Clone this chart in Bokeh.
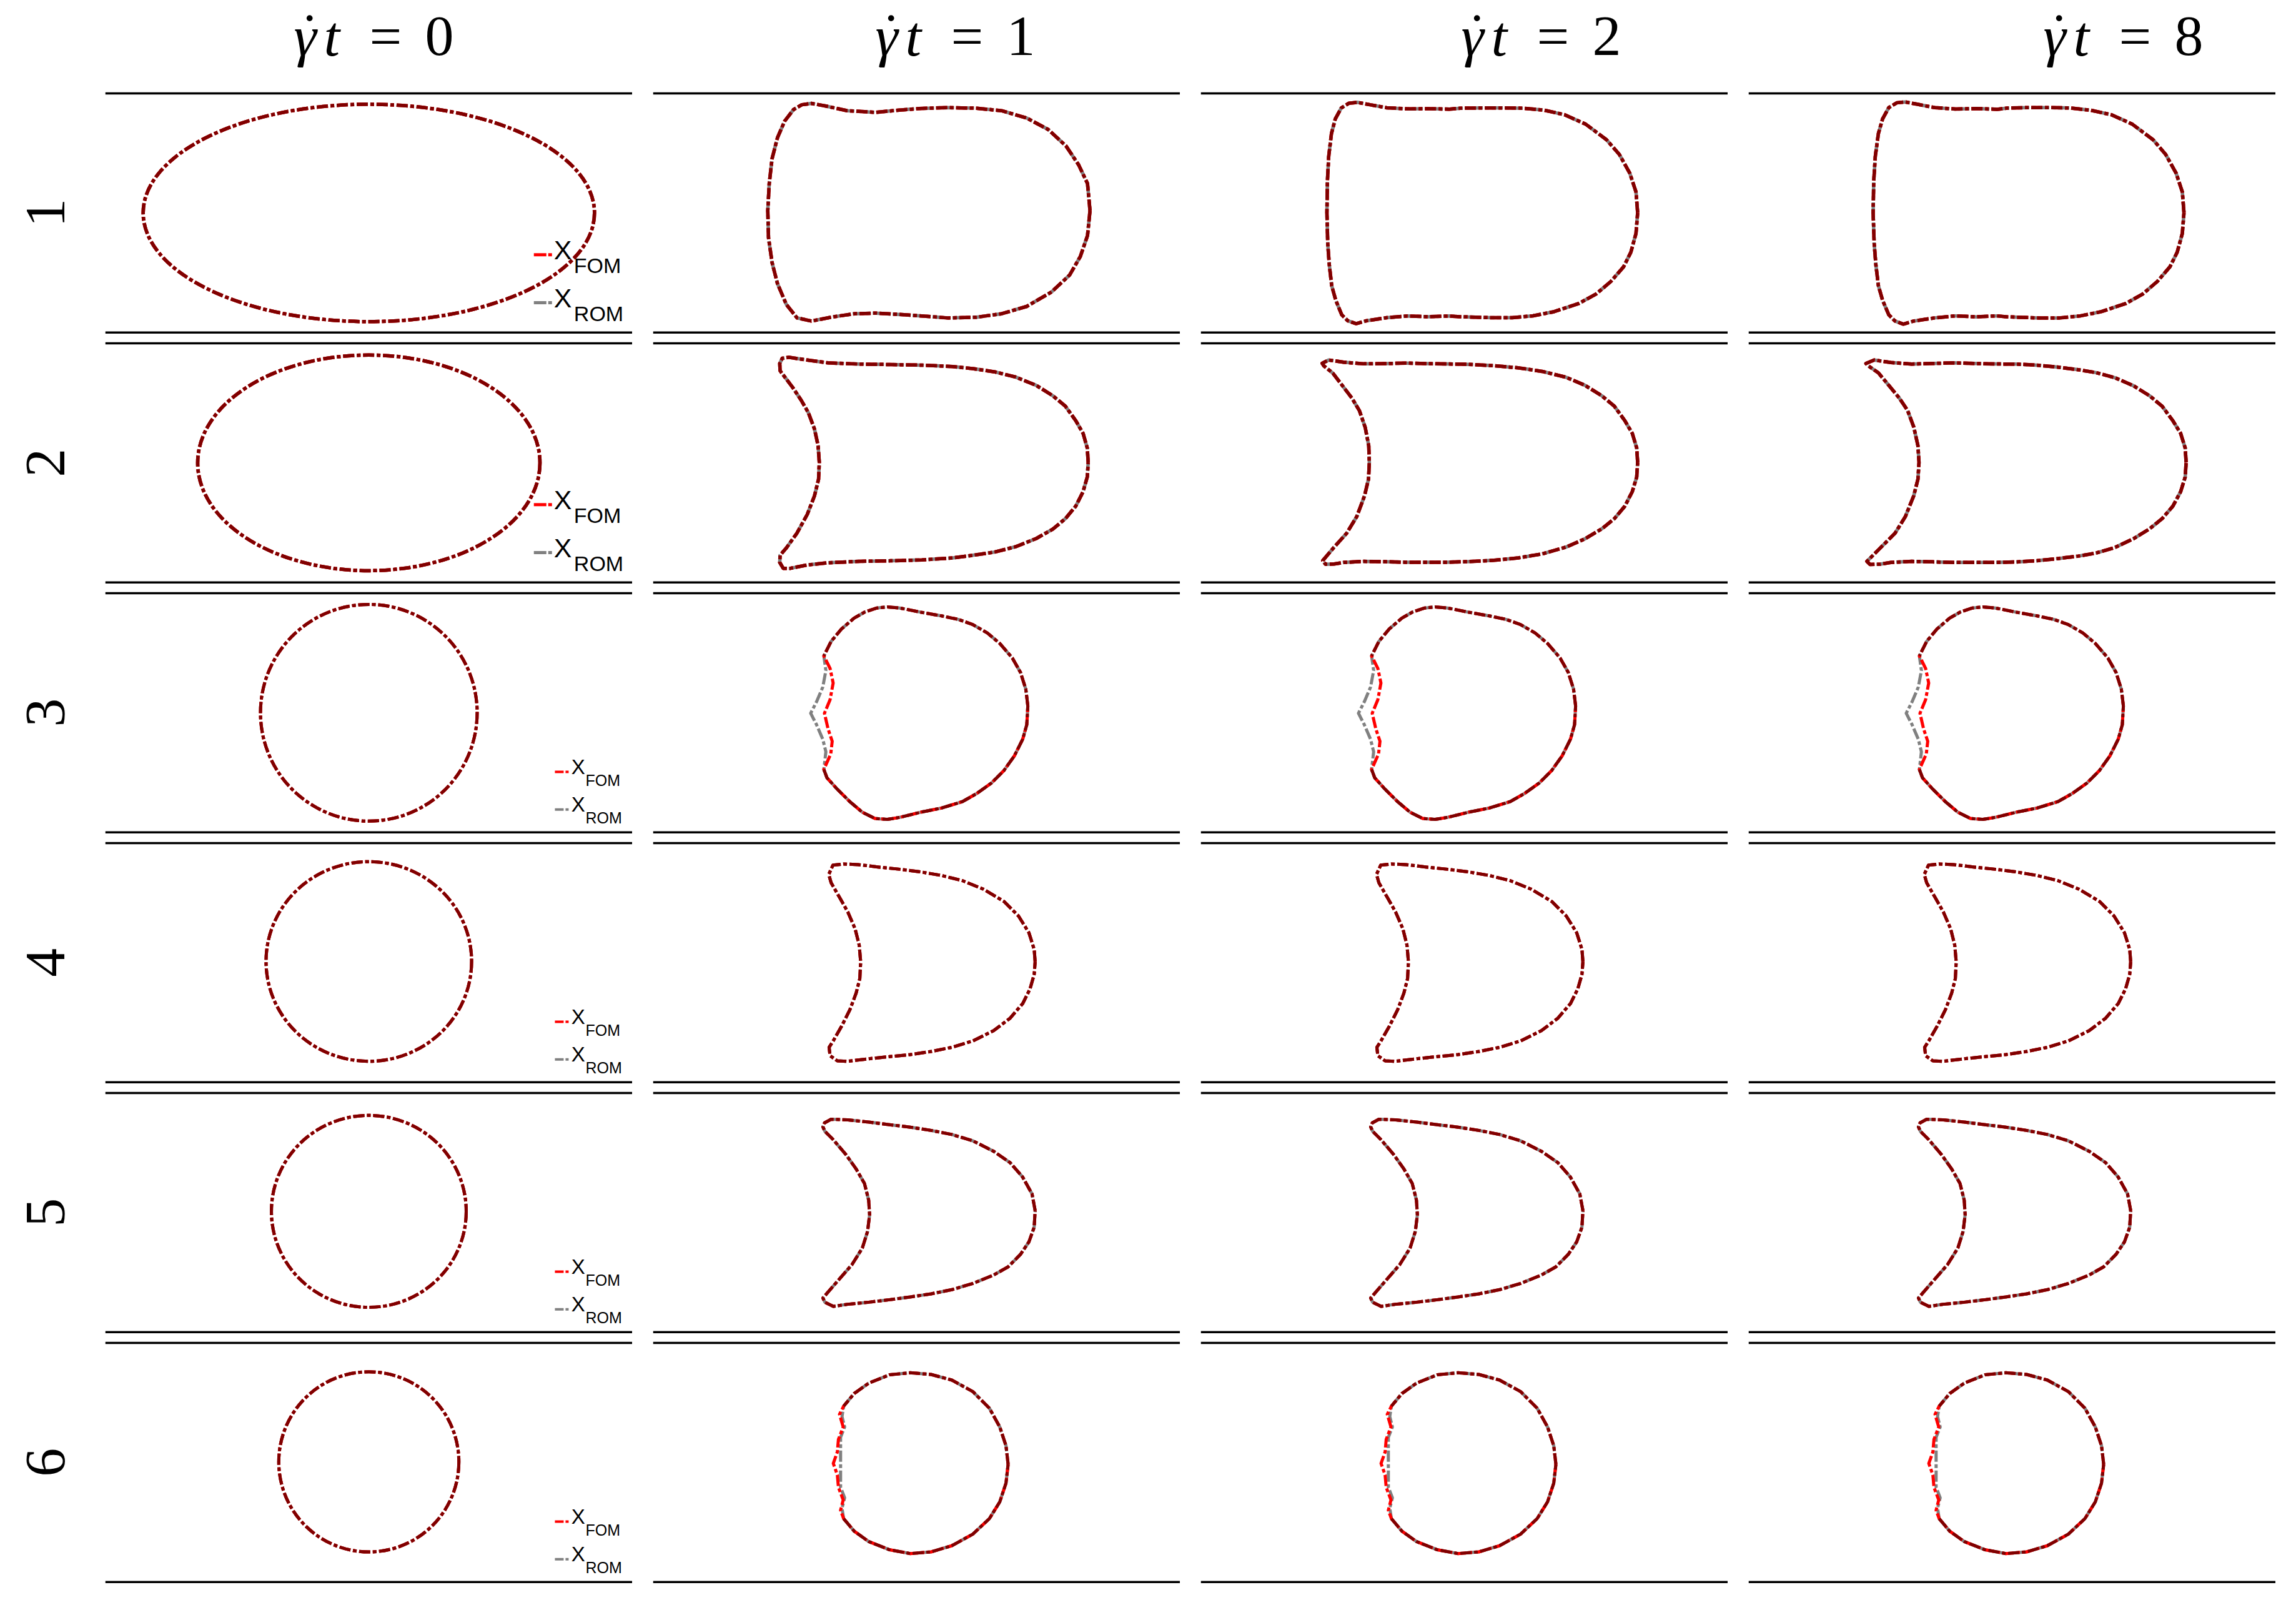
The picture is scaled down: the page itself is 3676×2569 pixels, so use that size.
import math
import numpy as np
from bokeh.plotting import figure
from bokeh.layouts import row, column
from bokeh.models import Range1d, Span
from bokeh.embed import file_html
from bokeh.resources import INLINE
from bokeh.core.properties import value

# ---------------- data (channel half-width = 1) ----------------
TIMES = ["0", "1", "2", "8"]
CASES = ["1", "2", "3", "4", "5", "6"]
WALLS = [-1.0, 1.0]

# initial shapes (t = 0): centre and full width / height
INIT_CX = [0.0, 0.0, 0.0, 0.0, 0.0, 0.0]
INIT_CY = [0.0, 0.0, 0.0, 0.01, 0.01, 0.005]
INIT_W = [3.776, 2.864, 1.813, 1.72, 1.63, 1.507]
INIT_H = [1.818, 1.804, 1.813, 1.67, 1.605, 1.507]

R1_T1 = [(1.451, 0.019), (1.430, 0.246), (1.356, 0.402), (1.251, 0.559), (1.101, 0.698), (0.921, 0.794),
         (0.711, 0.855), (0.501, 0.876), (0.260, 0.881), (0.020, 0.873), (-0.159, 0.859), (-0.340, 0.841),
         (-0.580, 0.855), (-0.759, 0.894), (-0.880, 0.916), (-0.960, 0.905), (-1.030, 0.864), (-1.104, 0.768),
         (-1.164, 0.629), (-1.209, 0.455), (-1.233, 0.246), (-1.245, 0.019), (-1.239, -0.207), (-1.209, -0.416),
         (-1.164, -0.591), (-1.090, -0.765), (-1.000, -0.878), (-0.880, -0.904), (-0.699, -0.869), (-0.520, -0.843),
         (-0.340, -0.838), (-0.159, -0.848), (0.020, -0.860), (0.260, -0.878), (0.501, -0.872), (0.711, -0.843),
         (0.921, -0.782), (1.130, -0.660), (1.280, -0.520), (1.370, -0.364), (1.430, -0.190)]

R1_T2 = [(1.450, 0.002), (1.436, 0.176), (1.384, 0.333), (1.297, 0.489), (1.190, 0.612), (1.016, 0.742),
         (0.840, 0.821), (0.665, 0.860), (0.490, 0.876), (0.315, 0.878), (0.140, 0.878), (-0.035, 0.876),
         (-0.125, 0.868), (-0.300, 0.872), (-0.475, 0.870), (-0.650, 0.880), (-0.790, 0.905), (-0.895, 0.925),
         (-0.965, 0.918), (-1.030, 0.878), (-1.080, 0.786), (-1.112, 0.664), (-1.135, 0.472), (-1.146, 0.263),
         (-1.150, 0.002), (-1.143, -0.259), (-1.130, -0.434), (-1.110, -0.608), (-1.076, -0.730), (-1.026, -0.852),
         (-0.975, -0.902), (-0.905, -0.926), (-0.820, -0.902), (-0.650, -0.876), (-0.475, -0.862), (-0.300, -0.868),
         (-0.126, -0.862), (-0.035, -0.868), (0.225, -0.876), (0.400, -0.876), (0.575, -0.860), (0.750, -0.826),
         (0.960, -0.756), (1.102, -0.678), (1.226, -0.573), (1.332, -0.451), (1.393, -0.329), (1.436, -0.172)]

R1_T8 = [(1.438, 0.002), (1.424, 0.176), (1.372, 0.333), (1.285, 0.489), (1.180, 0.612), (1.006, 0.742),
         (0.832, 0.821), (0.658, 0.859), (0.484, 0.878), (0.309, 0.881), (0.135, 0.881), (-0.039, 0.877),
         (-0.126, 0.867), (-0.300, 0.873), (-0.475, 0.869), (-0.649, 0.881), (-0.788, 0.908), (-0.893, 0.928),
         (-0.963, 0.922), (-1.032, 0.881), (-1.084, 0.786), (-1.119, 0.664), (-1.145, 0.472), (-1.158, 0.263),
         (-1.163, 0.002), (-1.154, -0.259), (-1.140, -0.434), (-1.119, -0.608), (-1.084, -0.730), (-1.032, -0.852),
         (-0.980, -0.904), (-0.910, -0.930), (-0.823, -0.904), (-0.649, -0.878), (-0.475, -0.861), (-0.300, -0.869),
         (-0.126, -0.861), (-0.039, -0.869), (0.222, -0.878), (0.397, -0.878), (0.571, -0.861), (0.745, -0.826),
         (0.954, -0.756), (1.093, -0.678), (1.215, -0.573), (1.320, -0.451), (1.381, -0.329), (1.424, -0.172)]

R2_T1 = [(1.436, 0.003), (1.428, 0.125), (1.393, 0.247), (1.332, 0.352), (1.245, 0.474), (1.140, 0.561),
         (1.001, 0.648), (0.827, 0.718), (0.653, 0.761), (0.479, 0.787), (0.304, 0.805), (0.044, 0.817),
         (-0.218, 0.822), (-0.480, 0.826), (-0.741, 0.836), (-0.915, 0.860), (-1.072, 0.883), (-1.124, 0.874),
         (-1.145, 0.831), (-1.142, 0.770), (-1.116, 0.735), (-1.037, 0.631), (-0.967, 0.526), (-0.906, 0.421),
         (-0.854, 0.282), (-0.824, 0.143), (-0.814, 0.003), (-0.820, -0.136), (-0.854, -0.275), (-0.915, -0.432),
         (-1.002, -0.589), (-1.089, -0.711), (-1.142, -0.772), (-1.145, -0.833), (-1.116, -0.882), (-1.055, -0.882),
         (-0.915, -0.854), (-0.741, -0.836), (-0.480, -0.824), (-0.218, -0.819), (0.044, -0.812), (0.304, -0.795),
         (0.479, -0.772), (0.653, -0.746), (0.827, -0.702), (1.001, -0.633), (1.140, -0.554), (1.245, -0.467),
         (1.332, -0.362), (1.393, -0.241), (1.428, -0.119)]

R2_T2 = [(1.450, 0.003), (1.442, 0.125), (1.405, 0.247), (1.343, 0.352), (1.255, 0.474), (1.150, 0.561),
         (1.010, 0.648), (0.850, 0.716), (0.650, 0.765), (0.450, 0.795), (0.250, 0.812), (0.030, 0.824),
         (-0.144, 0.827), (-0.318, 0.830), (-0.492, 0.834), (-0.666, 0.830), (-0.840, 0.828), (-1.010, 0.842),
         (-1.135, 0.860), (-1.190, 0.833), (-1.176, 0.811), (-1.100, 0.750), (-1.020, 0.645), (-0.940, 0.540),
         (-0.878, 0.436), (-0.830, 0.298), (-0.800, 0.143), (-0.795, 0.003), (-0.802, -0.136), (-0.835, -0.275),
         (-0.900, -0.449), (-0.985, -0.589), (-1.095, -0.711), (-1.185, -0.818), (-1.162, -0.848), (-1.090, -0.846),
         (-1.010, -0.833), (-0.840, -0.824), (-0.666, -0.827), (-0.492, -0.831), (-0.318, -0.831), (-0.144, -0.831),
         (0.030, -0.826), (0.250, -0.815), (0.450, -0.795), (0.650, -0.762), (0.850, -0.705), (1.010, -0.635),
         (1.150, -0.552), (1.255, -0.467), (1.343, -0.362), (1.405, -0.241), (1.442, -0.119)]

R2_T8 = [(1.456, 0.003), (1.448, 0.125), (1.410, 0.247), (1.345, 0.352), (1.255, 0.474), (1.150, 0.561),
         (1.015, 0.645), (0.860, 0.712), (0.700, 0.755), (0.553, 0.779), (0.379, 0.801), (0.205, 0.817),
         (0.031, 0.826), (-0.144, 0.827), (-0.318, 0.831), (-0.492, 0.836), (-0.666, 0.831), (-0.840, 0.826),
         (-1.015, 0.839), (-1.154, 0.860), (-1.223, 0.831), (-1.206, 0.813), (-1.119, 0.753), (-1.032, 0.648),
         (-0.945, 0.543), (-0.875, 0.439), (-0.823, 0.300), (-0.788, 0.143), (-0.779, 0.003), (-0.788, -0.136),
         (-0.823, -0.275), (-0.893, -0.449), (-0.980, -0.589), (-1.102, -0.711), (-1.215, -0.824), (-1.189, -0.850),
         (-1.102, -0.847), (-1.015, -0.833), (-0.840, -0.824), (-0.666, -0.828), (-0.492, -0.833), (-0.318, -0.833),
         (-0.144, -0.833), (0.031, -0.829), (0.205, -0.819), (0.379, -0.801), (0.553, -0.780), (0.700, -0.755),
         (0.860, -0.708), (1.015, -0.635), (1.150, -0.552), (1.255, -0.467), (1.345, -0.362), (1.410, -0.241),
         (1.448, -0.119)]

R3_FOM = [(0.931, 0.057), (0.914, 0.196), (0.870, 0.336), (0.801, 0.458), (0.696, 0.580), (0.592, 0.667),
          (0.469, 0.738), (0.348, 0.781), (0.208, 0.810), (0.034, 0.841), (-0.140, 0.876), (-0.245, 0.885),
          (-0.332, 0.876), (-0.436, 0.841), (-0.523, 0.791), (-0.628, 0.701), (-0.715, 0.597), (-0.776, 0.475),
          (-0.724, 0.371), (-0.698, 0.249), (-0.724, 0.109), (-0.771, -0.004), (-0.741, -0.134), (-0.706, -0.239),
          (-0.718, -0.344), (-0.776, -0.474), (-0.750, -0.544), (-0.663, -0.640), (-0.558, -0.744), (-0.454, -0.832),
          (-0.349, -0.884), (-0.245, -0.892), (-0.140, -0.875), (0.034, -0.832), (0.208, -0.797), (0.382, -0.744),
          (0.504, -0.675), (0.626, -0.588), (0.731, -0.483), (0.818, -0.361), (0.888, -0.221), (0.922, -0.100)]

R3_ROM = [(0.931, 0.057), (0.914, 0.196), (0.870, 0.336), (0.801, 0.458), (0.696, 0.580), (0.592, 0.667),
          (0.469, 0.738), (0.348, 0.781), (0.208, 0.810), (0.034, 0.841), (-0.140, 0.876), (-0.245, 0.885),
          (-0.332, 0.876), (-0.436, 0.841), (-0.523, 0.791), (-0.628, 0.701), (-0.715, 0.597), (-0.776, 0.475),
          (-0.759, 0.353), (-0.785, 0.214), (-0.837, 0.092), (-0.886, -0.004), (-0.837, -0.100), (-0.785, -0.221),
          (-0.759, -0.326), (-0.776, -0.474), (-0.750, -0.544), (-0.663, -0.640), (-0.558, -0.744), (-0.454, -0.832),
          (-0.349, -0.884), (-0.245, -0.892), (-0.140, -0.875), (0.034, -0.832), (0.208, -0.797), (0.382, -0.744),
          (0.504, -0.675), (0.626, -0.588), (0.731, -0.483), (0.818, -0.361), (0.888, -0.221), (0.922, -0.100)]

R4 = [(0.992, 0.007), (0.984, 0.111), (0.940, 0.250), (0.853, 0.390), (0.731, 0.512), (0.556, 0.616),
      (0.383, 0.686), (0.208, 0.729), (0.034, 0.759), (-0.140, 0.781), (-0.315, 0.799), (-0.489, 0.820),
      (-0.610, 0.825), (-0.700, 0.815), (-0.735, 0.738), (-0.715, 0.668), (-0.645, 0.546), (-0.576, 0.425),
      (-0.515, 0.285), (-0.480, 0.146), (-0.468, 0.007), (-0.475, -0.133), (-0.506, -0.255), (-0.558, -0.394),
      (-0.628, -0.533), (-0.698, -0.655), (-0.732, -0.708), (-0.724, -0.778), (-0.663, -0.821), (-0.576, -0.825),
      (-0.401, -0.804), (-0.227, -0.786), (-0.053, -0.769), (0.121, -0.743), (0.295, -0.708), (0.470, -0.655),
      (0.644, -0.569), (0.783, -0.464), (0.888, -0.342), (0.949, -0.220), (0.984, -0.098)]

R5 = [(0.992, 0.017), (0.966, 0.156), (0.888, 0.296), (0.783, 0.417), (0.644, 0.513), (0.470, 0.600),
      (0.295, 0.653), (0.121, 0.687), (-0.053, 0.714), (-0.227, 0.735), (-0.401, 0.757), (-0.576, 0.775),
      (-0.715, 0.780), (-0.770, 0.750), (-0.784, 0.717), (-0.767, 0.679), (-0.697, 0.609), (-0.593, 0.487),
      (-0.506, 0.365), (-0.436, 0.243), (-0.401, 0.104), (-0.393, -0.018), (-0.410, -0.157), (-0.454, -0.297),
      (-0.541, -0.436), (-0.663, -0.575), (-0.784, -0.715), (-0.767, -0.750), (-0.697, -0.785), (-0.576, -0.767),
      (-0.401, -0.750), (-0.227, -0.729), (-0.053, -0.706), (0.121, -0.680), (0.295, -0.645), (0.470, -0.593),
      (0.644, -0.523), (0.766, -0.454), (0.870, -0.349), (0.940, -0.245), (0.984, -0.122)]

R6_FOM = [(0.766, -0.016), (0.748, 0.140), (0.696, 0.297), (0.609, 0.454), (0.470, 0.593), (0.295, 0.689),
          (0.121, 0.736), (-0.053, 0.750), (-0.227, 0.733), (-0.401, 0.663), (-0.523, 0.576), (-0.610, 0.471),
          (-0.645, 0.402), (-0.614, 0.297), (-0.654, 0.193), (-0.663, 0.088), (-0.697, -0.008), (-0.663, -0.104),
          (-0.654, -0.208), (-0.614, -0.313), (-0.636, -0.400), (-0.610, -0.470), (-0.523, -0.574), (-0.401, -0.661),
          (-0.227, -0.730), (-0.053, -0.762), (0.121, -0.748), (0.295, -0.696), (0.470, -0.600), (0.609, -0.470),
          (0.696, -0.330), (0.748, -0.173)]

R6_ROM = [(0.766, -0.016), (0.748, 0.140), (0.696, 0.297), (0.609, 0.454), (0.470, 0.593), (0.295, 0.689),
          (0.121, 0.736), (-0.053, 0.750), (-0.227, 0.733), (-0.401, 0.663), (-0.523, 0.576), (-0.610, 0.471),
          (-0.624, 0.384), (-0.602, 0.297), (-0.636, 0.210), (-0.636, 0.088), (-0.636, -0.016), (-0.636, -0.121),
          (-0.636, -0.208), (-0.602, -0.295), (-0.624, -0.383), (-0.610, -0.470), (-0.523, -0.574), (-0.401, -0.661),
          (-0.227, -0.730), (-0.053, -0.762), (0.121, -0.748), (0.295, -0.696), (0.470, -0.600), (0.609, -0.470),
          (0.696, -0.330), (0.748, -0.173)]

# FOM / ROM contours for t = 1, 2, 8, per case
FOM = [[R1_T1, R1_T2, R1_T8], [R2_T1, R2_T2, R2_T8], [R3_FOM, R3_FOM, R3_FOM],
       [R4, R4, R4], [R5, R5, R5], [R6_FOM, R6_FOM, R6_FOM]]
ROM = [[R1_T1, R1_T2, R1_T8], [R2_T1, R2_T2, R2_T8], [R3_ROM, R3_ROM, R3_ROM],
       [R4, R4, R4], [R5, R5, R5], [R6_ROM, R6_ROM, R6_ROM]]

# ---------------- styling / layout ----------------
RED, GRAY, MAROON = "#ff0000", "#808080", "#800000"
DASH = "18 4 6 4"
LW = [5.5, 5.5, 5, 5, 5, 5]
PANEL_W, PANEL_H, LABEL_W, GAP, HEAD_H = 844, 400, 135, 33, 139
X_HALF = 2.2054
Y_LO, Y_HI = -1.038, 1.052
SERIF = "Liberation Serif"
SANS = "Liberation Sans"
TITLE_X = [596, 1527, 2465, 3397]
TITLE_Y = 57
TITLE_FS = "92px"
TOTAL_W = LABEL_W + 4 * PANEL_W + 4 * GAP

# legend geometry (panel data units); text anchored at its vertical middle
LEG_BIG = dict(x0=1.381, x1=1.534, yf=-0.350, yr=-0.751, xx=1.548, xs=1.716, dx=0.041, ds=-0.090,
               fx=43, fs=34, lw=5, dash="20 3 6 3")
LEG_SMALL = dict(x0=1.557, x1=1.679, yf=-0.495, yr=-0.810, xx=1.694, xs=1.813, dx=0.042, ds=-0.068,
                 fx=33, fs=25, lw=4, dash="14 3 5 3")


def base_fig(width, height, xr, yr):
    p = figure(width=width, height=height, x_range=xr, y_range=yr, title=None,
               output_backend="svg", toolbar_location=None,
               x_axis_type=None, y_axis_type=None, min_border=0,
               outline_line_color=None, background_fill_color="white",
               border_fill_color="white")
    return p


def closed(pts):
    xs = np.array([q[0] for q in pts] + [pts[0][0]], dtype=float)
    ys = np.array([q[1] for q in pts] + [pts[0][1]], dtype=float)
    return xs, ys


def shared(fom, rom):
    xs, ys = [], []
    for a, b in zip(fom + fom[:1], rom + rom[:1]):
        if a == b:
            xs.append(a[0]); ys.append(a[1])
        else:
            xs.append(np.nan); ys.append(np.nan)
    return np.array(xs, dtype=float), np.array(ys, dtype=float)


def add_walls(p):
    for w in WALLS:
        p.add_layout(Span(location=w, dimension="width", line_color="black", line_width=3.5))


def add_legend(p, L):
    for yl, col, name in ((L["yf"], RED, "FOM"), (L["yr"], GRAY, "ROM")):
        p.line([L["x0"], L["x1"]], [yl, yl], line_color=col, line_width=L["lw"], line_dash=L["dash"])
        p.text(x=[L["xx"]], y=[yl + L["dx"]], text=["X"], text_font=value(SANS),
               text_font_size=value(f'{L["fx"]}px'), text_align="left", text_baseline="middle",
               text_color="black")
        p.text(x=[L["xs"]], y=[yl + L["ds"]], text=[name], text_font=value(SANS),
               text_font_size=value(f'{L["fs"]}px'), text_align="left", text_baseline="middle",
               text_color="black")


def serif_text(p, x, y, s, align="center", italic=False):
    p.text(x=[x], y=[y], text=[s], text_font=value(SERIF),
           text_font_style="italic" if italic else "normal",
           text_font_size=value(TITLE_FS), text_align=align, text_baseline="middle",
           text_color="black")


# header with column titles (coordinates: page pixels)
header = base_fig(TOTAL_W, HEAD_H, Range1d(0, TOTAL_W), Range1d(HEAD_H, 0))
for c, t in enumerate(TIMES):
    tx = TITLE_X[c]
    serif_text(header, tx - 126, TITLE_Y, "\u03b3", align="left", italic=True)
    serif_text(header, tx - 101, TITLE_Y - 4, "\u02d9")
    serif_text(header, tx - 78, TITLE_Y, "t", align="left", italic=True)
    serif_text(header, tx + 21, TITLE_Y, "=")
    serif_text(header, tx + 107, TITLE_Y, t)

rows = [header]
for r, case in enumerate(CASES):
    lab = base_fig(LABEL_W, PANEL_H, Range1d(0, LABEL_W), Range1d(Y_LO, Y_HI))
    lab.text(x=[72], y=[0.0], text=[case], angle=math.pi / 2, text_font=value(SERIF),
             text_font_size=value(TITLE_FS), text_align="center", text_baseline="middle",
             text_color="black")
    panels = [lab]
    lw = LW[r]
    for c in range(4):
        p = base_fig(PANEL_W, PANEL_H, Range1d(-X_HALF, X_HALF), Range1d(Y_LO, Y_HI))
        add_walls(p)
        if c == 0:
            for col in (GRAY, RED, MAROON):
                p.ellipse(x=[INIT_CX[r]], y=[INIT_CY[r]], width=[INIT_W[r]], height=[INIT_H[r]],
                          fill_color=None, line_color=col, line_width=lw, line_dash=DASH)
            add_legend(p, LEG_BIG if r < 2 else LEG_SMALL)
        else:
            f = FOM[r][c - 1]
            m = ROM[r][c - 1]
            off = 0 if r == 3 else 11
            gx, gy = closed(m)
            p.line(gx, gy, line_color=GRAY, line_width=lw, line_dash=DASH, line_dash_offset=off,
                   line_join="round")
            fx, fy = closed(f)
            p.line(fx, fy, line_color=RED, line_width=lw, line_dash=DASH, line_join="round")
            sx, sy = shared(f, m)
            p.line(sx, sy, line_color=MAROON, line_width=lw, line_dash=DASH, line_join="round")
        panels.append(p)
    rows.append(row(*panels, spacing=GAP))

layout = column(*rows, spacing=0)

open("out.html", "w").write(file_html(layout, INLINE))
